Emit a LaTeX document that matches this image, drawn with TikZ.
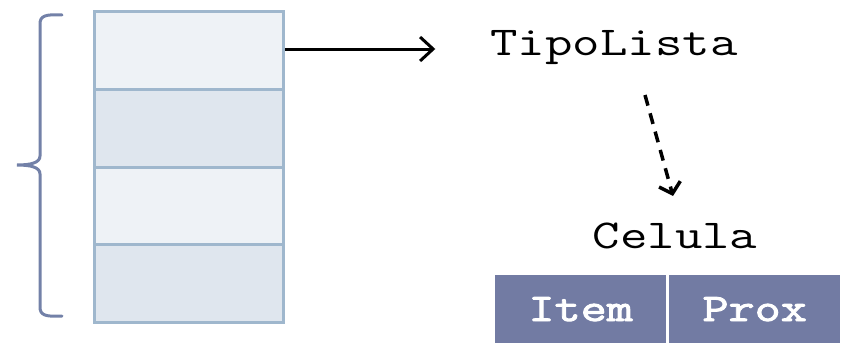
\documentclass[tikz,border=0pt]{standalone}
\usepackage{fontspec}
\newfontfamily\courfont[FakeStretch=1.3]{Latin Modern Mono}
\newfontfamily\courbold[FakeStretch=1.3,FakeBold=2.5]{Latin Modern Mono}
\usetikzlibrary{arrows.meta}
\definecolor{cellA}{HTML}{EEF2F6}
\definecolor{cellB}{HTML}{DFE6EE}
\definecolor{cellborder}{HTML}{9FB7CD}
\definecolor{bracecol}{HTML}{7381A8}
\definecolor{celfill}{HTML}{727BA3}
\tikzset{
  stackcell/.style={draw=cellborder, line width=3pt, minimum width=189pt, minimum height=77.75pt, inner sep=0pt, anchor=north west},
  bigtext/.style={font=\courfont\fontsize{41}{48}\selectfont, inner sep=0pt, anchor=base},
  fieldbox/.style={fill=celfill, minimum height=68pt, inner sep=0pt, anchor=north west, text=white, font=\courbold\fontsize{39}{46}\selectfont},
}
\begin{document}
\begin{tikzpicture}[x=1pt,y=-1pt]
\useasboundingbox (0,0) rectangle (844,343);
% stack
\node[stackcell, fill=cellA] (c1) at (93,10) {};
\node[stackcell, fill=cellB] (c2) at (93,87.75) {};
\node[stackcell, fill=cellA] (c3) at (93,165.5) {};
\node[stackcell, fill=cellB] (c4) at (93,243.25) {};
% brace
\draw[bracecol, line width=3pt, line cap=round]
  (62,15) .. controls (45,14) and (40,16) .. (40,24) -- (40,156)
  .. controls (40,163) and (30,165) .. (17,165)
  .. controls (30,165) and (40,167) .. (40,174) -- (40,307)
  .. controls (40,315) and (45,317) .. (62,316);
% texts
\node[bigtext] (tipo) at (614,55) {TipoLista};
\node[bigtext] (celula) at (675,248) {Celula};
% fields
\node[fieldbox, minimum width=171pt] (item) at (495,275) {Item};
\node[fieldbox, minimum width=171pt] (prox) at (669,275) {Prox};
% arrows
\draw[line width=3pt, -{Straight Barb[length=13pt,width=24pt,line width=3pt]}, shorten >=55pt] (c1.east |- 0,49) -- (tipo.west |- 0,49);
\coordinate (ds) at (645,95);
\coordinate (de) at (673,196);
\draw[line width=3.5pt, dash pattern=on 11pt off 8pt, -{Straight Barb[length=10pt,width=22pt,line width=3.5pt]}] (ds) -- (de);
\end{tikzpicture}
\end{document}
